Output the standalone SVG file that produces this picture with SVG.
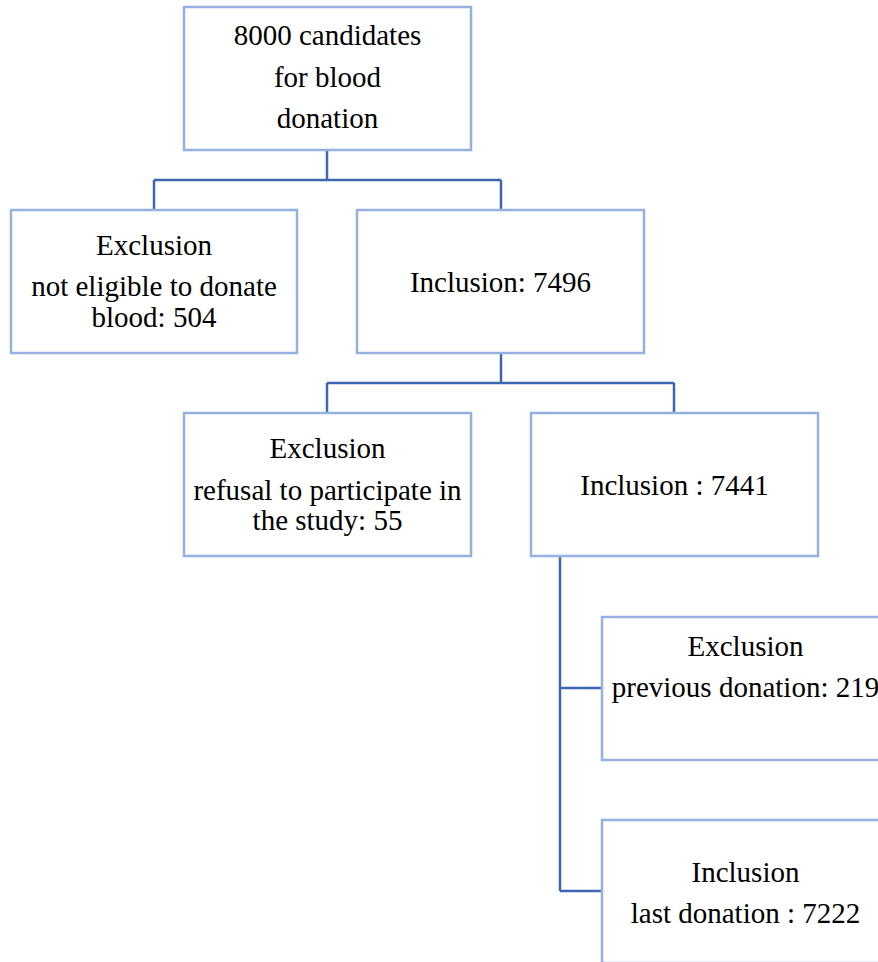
<svg xmlns="http://www.w3.org/2000/svg" width="878" height="962" viewBox="0 0 878 962">
<style>
.box{fill:#fff;stroke:#94b1e0;stroke-width:2.5}
.conn{fill:none;stroke:#3f66b0;stroke-width:2.5}
text{font-family:"Liberation Serif","Times New Roman",serif;font-size:29px;fill:#000;text-anchor:middle}
</style>
<rect width="878" height="962" fill="#fff"/>
<g id="connectors">
<path class="conn" d="M327,150 V180 M154,180 H501 M154,180 V210 M501,180 V210"/>
<path class="conn" d="M501,353 V383 M327,383 H674 M327,383 V413 M674,383 V413"/>
<path class="conn" d="M560,556 V891 M560,688 H602 M560,891 H602"/>
</g>
<g id="n_candidates">
<rect class="box" x="184" y="7" width="287" height="143"/>
<text x="327.5" y="45">8000 candidates</text>
<text x="327.5" y="87">for blood</text>
<text x="327.5" y="128">donation</text>
</g>
<g id="n_excl1">
<rect class="box" x="11" y="210" width="286" height="143"/>
<text x="154" y="255">Exclusion</text>
<text x="154" y="296">not eligible to donate</text>
<text x="154" y="327">blood: 504</text>
</g>
<g id="n_incl1">
<rect class="box" x="357" y="210" width="287" height="143"/>
<text x="500.5" y="292">Inclusion: 7496</text>
</g>
<g id="n_excl2">
<rect class="box" x="184" y="413" width="287" height="143"/>
<text x="327.5" y="458">Exclusion</text>
<text x="327.5" y="500">refusal to participate in</text>
<text x="327.5" y="530">the study: 55</text>
</g>
<g id="n_incl2">
<rect class="box" x="531" y="413" width="287" height="143"/>
<text x="674.5" y="495">Inclusion : 7441</text>
</g>
<g id="n_excl3">
<rect class="box" x="602" y="617" width="287" height="143"/>
<text x="745.5" y="656">Exclusion</text>
<text x="745.5" y="697">previous donation: 219</text>
</g>
<g id="n_incl3">
<rect class="box" x="602" y="820" width="287" height="143"/>
<text x="745.5" y="882">Inclusion</text>
<text x="745.5" y="923">last donation : 7222</text>
</g>
</svg>
